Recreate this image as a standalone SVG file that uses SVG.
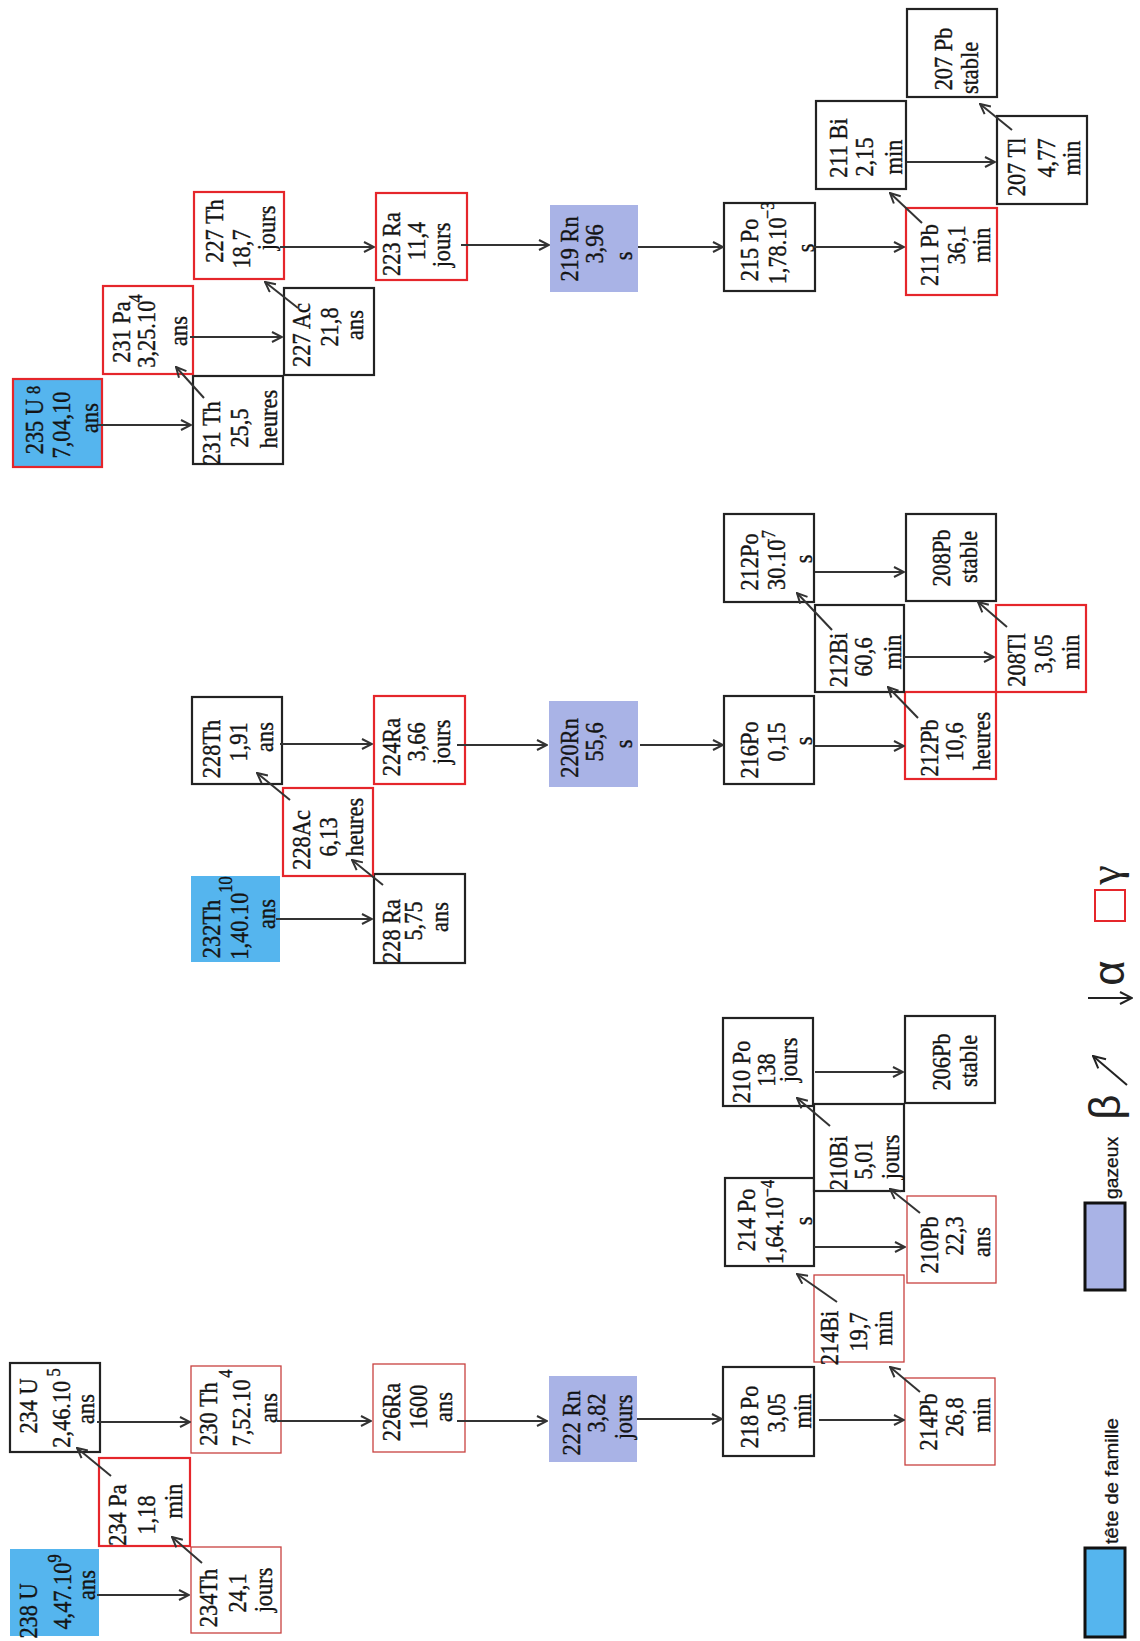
<svg xmlns="http://www.w3.org/2000/svg" width="1140" height="1641" viewBox="0 0 1140 1641">
  <style>
    .t { font-family: "Liberation Serif", "Times New Roman", serif; font-size: 26px; fill: #141414; stroke: #141414; stroke-width: 0.4; text-anchor: middle; }
    .sup { font-size: 19px; }
    .lg { font-family: "Liberation Sans", Arial, sans-serif; font-size: 18px; fill: #141414; stroke: #141414; stroke-width: 0.3; text-anchor: middle; }
    .gr { font-family: "Liberation Sans", "DejaVu Sans", sans-serif; font-size: 44px; fill: #222; text-anchor: middle; }
    .blk { fill: #fff; stroke: #222; stroke-width: 2.2; }
    .redk { fill: #fff; stroke: #e5262b; stroke-width: 2.2; }
    .redt { fill: #fff; stroke: #c8413f; stroke-width: 1.3; }
    .head { fill: #55b5ee; }
    .gas { fill: #a9b3e6; }
    .arr line { stroke: #333; stroke-width: 2; marker-end: url(#ah); }
  </style>
  <defs>
    <marker id="ah" viewBox="0 0 12 12" refX="11" refY="6" markerWidth="12" markerHeight="12" markerUnits="userSpaceOnUse" orient="auto">
      <path d="M1,1 L11,6 L1,11" fill="none" stroke="#333" stroke-width="2"/>
    </marker>
    <marker id="ahl" viewBox="0 0 14 14" refX="13" refY="7" markerWidth="14" markerHeight="14" markerUnits="userSpaceOnUse" orient="auto">
      <path d="M1,1 L13,7 L1,13" fill="none" stroke="#222" stroke-width="2"/>
    </marker>
  </defs>
  <rect width="1140" height="1641" fill="#fff"/>

  <!-- Uranium 238 series; labels read bottom-to-top, squeezed slightly along the line -->
  <g id="n-238U"><rect class="head" x="10" y="1549" width="89" height="87"/>
    <text class="t" transform="translate(37 1611) rotate(-90) scale(0.86 1)">238 U</text>
    <text class="t" transform="translate(71 1592) rotate(-90) scale(0.86 1)">4,47.10<tspan class="sup" dy="-10">9</tspan></text>
    <text class="t" transform="translate(95 1585) rotate(-90) scale(0.86 1)">ans</text></g>
  <g id="n-234Th"><rect class="redt" x="191" y="1547" width="90" height="86"/>
    <text class="t" transform="translate(217 1598) rotate(-90) scale(0.86 1)">234Th</text>
    <text class="t" transform="translate(246 1593) rotate(-90) scale(0.86 1)">24,1</text>
    <text class="t" transform="translate(272 1590) rotate(-90) scale(0.86 1)">jours</text></g>
  <g id="n-234Pa"><rect class="redk" x="99" y="1458" width="91" height="88"/>
    <text class="t" transform="translate(126 1515) rotate(-90) scale(0.86 1)">234 Pa</text>
    <text class="t" transform="translate(155 1515) rotate(-90) scale(0.86 1)">1,18</text>
    <text class="t" transform="translate(182 1501) rotate(-90) scale(0.86 1)">min</text></g>
  <g id="n-234U"><rect class="blk" x="10" y="1363" width="90" height="89"/>
    <text class="t" transform="translate(37 1406) rotate(-90) scale(0.86 1)">234 U</text>
    <text class="t" transform="translate(70 1408) rotate(-90) scale(0.86 1)">2,46.10<tspan class="sup" dx="5" dy="-10">5</tspan></text>
    <text class="t" transform="translate(94 1409) rotate(-90) scale(0.86 1)">ans</text></g>
  <g id="n-230Th"><rect class="redt" x="191" y="1366" width="90" height="87"/>
    <text class="t" transform="translate(217 1414) rotate(-90) scale(0.86 1)">230 Th</text>
    <text class="t" transform="translate(250 1408) rotate(-90) scale(0.86 1)">7,52.10<tspan class="sup" dx="2" dy="-18">4</tspan></text>
    <text class="t" transform="translate(277 1408) rotate(-90) scale(0.86 1)">ans</text></g>
  <g id="n-226Ra"><rect class="redt" x="373" y="1364" width="92" height="88"/>
    <text class="t" transform="translate(400 1412) rotate(-90) scale(0.86 1)">226Ra</text>
    <text class="t" transform="translate(427 1407) rotate(-90) scale(0.86 1)">1600</text>
    <text class="t" transform="translate(452 1407) rotate(-90) scale(0.86 1)">ans</text></g>
  <g id="n-222Rn"><rect class="gas" x="549" y="1376" width="88" height="86"/>
    <text class="t" transform="translate(580 1423) rotate(-90) scale(0.86 1)">222 Rn</text>
    <text class="t" transform="translate(605 1413) rotate(-90) scale(0.86 1)">3,82</text>
    <text class="t" transform="translate(632 1417) rotate(-90) scale(0.86 1)">jours</text></g>
  <g id="n-218Po"><rect class="blk" x="723" y="1367" width="91" height="89"/>
    <text class="t" transform="translate(758 1417) rotate(-90) scale(0.86 1)">218 Po</text>
    <text class="t" transform="translate(785 1413) rotate(-90) scale(0.86 1)">3,05</text>
    <text class="t" transform="translate(811 1411) rotate(-90) scale(0.86 1)">min</text></g>
  <g id="n-214Pb"><rect class="redt" x="905" y="1378" width="90" height="87"/>
    <text class="t" transform="translate(937 1422) rotate(-90) scale(0.86 1)">214Pb</text>
    <text class="t" transform="translate(963 1417) rotate(-90) scale(0.86 1)">26,8</text>
    <text class="t" transform="translate(990 1415) rotate(-90) scale(0.86 1)">min</text></g>
  <g id="n-214Bi"><rect class="redt" x="814" y="1275" width="90" height="87"/>
    <text class="t" transform="translate(838 1338) rotate(-90) scale(0.86 1)">214Bi</text>
    <text class="t" transform="translate(867 1332) rotate(-90) scale(0.86 1)">19,7</text>
    <text class="t" transform="translate(892 1328) rotate(-90) scale(0.86 1)">min</text></g>
  <g id="n-214Po"><rect class="blk" x="725" y="1178" width="89" height="88"/>
    <text class="t" transform="translate(755 1220) rotate(-90) scale(0.86 1)">214 Po</text>
    <text class="t" transform="translate(783 1222) rotate(-90) scale(0.86 1)">1,64.10<tspan class="sup" dy="-9">−4</tspan></text>
    <text class="t" transform="translate(812 1221) rotate(-90) scale(0.86 1)">s</text></g>
  <g id="n-210Pb"><rect class="redt" x="907" y="1196" width="89" height="87"/>
    <text class="t" transform="translate(938 1245) rotate(-90) scale(0.86 1)">210Pb</text>
    <text class="t" transform="translate(963 1236) rotate(-90) scale(0.86 1)">22,3</text>
    <text class="t" transform="translate(990 1242) rotate(-90) scale(0.86 1)">ans</text></g>
  <g id="n-210Bi"><rect class="blk" x="814" y="1104" width="90" height="87"/>
    <text class="t" transform="translate(847 1163) rotate(-90) scale(0.86 1)">210Bi</text>
    <text class="t" transform="translate(872 1160) rotate(-90) scale(0.86 1)">5,01</text>
    <text class="t" transform="translate(899 1157) rotate(-90) scale(0.86 1)">jours</text></g>
  <g id="n-210Po"><rect class="blk" x="723" y="1018" width="90" height="88"/>
    <text class="t" transform="translate(750 1072) rotate(-90) scale(0.86 1)">210 Po</text>
    <text class="t" transform="translate(775 1070) rotate(-90) scale(0.86 1)">138</text>
    <text class="t" transform="translate(797 1060) rotate(-90) scale(0.86 1)">jours</text></g>
  <g id="n-206Pb"><rect class="blk" x="905" y="1016" width="90" height="87"/>
    <text class="t" transform="translate(950 1062) rotate(-90) scale(0.86 1)">206Pb</text>
    <text class="t" transform="translate(977 1061) rotate(-90) scale(0.86 1)">stable</text></g>

  <!-- Thorium 232 series -->
  <g id="n-232Th"><rect class="head" x="191" y="876" width="89" height="86"/>
    <text class="t" transform="translate(220 929) rotate(-90) scale(0.86 1)">232Th</text>
    <text class="t" transform="translate(248 918) rotate(-90) scale(0.86 1)">1,40.10<tspan class="sup" dy="-16">10</tspan></text>
    <text class="t" transform="translate(275 914) rotate(-90) scale(0.86 1)">ans</text></g>
  <g id="n-228Ra"><rect class="blk" x="374" y="874" width="91" height="89"/>
    <text class="t" transform="translate(400 931) rotate(-90) scale(0.86 1)">228 Ra</text>
    <text class="t" transform="translate(422 921) rotate(-90) scale(0.86 1)">5,75</text>
    <text class="t" transform="translate(448 917) rotate(-90) scale(0.86 1)">ans</text></g>
  <g id="n-228Ac"><rect class="redk" x="283" y="788" width="90" height="88"/>
    <text class="t" transform="translate(310 840) rotate(-90) scale(0.86 1)">228Ac</text>
    <text class="t" transform="translate(337 837) rotate(-90) scale(0.86 1)">6,13</text>
    <text class="t" transform="translate(363 827) rotate(-90) scale(0.86 1)">heures</text></g>
  <g id="n-228Th"><rect class="blk" x="192" y="697" width="90" height="87"/>
    <text class="t" transform="translate(220 749) rotate(-90) scale(0.86 1)">228Th</text>
    <text class="t" transform="translate(247 742) rotate(-90) scale(0.86 1)">1,91</text>
    <text class="t" transform="translate(273 737) rotate(-90) scale(0.86 1)">ans</text></g>
  <g id="n-224Ra"><rect class="redk" x="374" y="696" width="91" height="88"/>
    <text class="t" transform="translate(400 747) rotate(-90) scale(0.86 1)">224Ra</text>
    <text class="t" transform="translate(425 742) rotate(-90) scale(0.86 1)">3,66</text>
    <text class="t" transform="translate(450 742) rotate(-90) scale(0.86 1)">jours</text></g>
  <g id="n-220Rn"><rect class="gas" x="549" y="701" width="89" height="86"/>
    <text class="t" transform="translate(578 748) rotate(-90) scale(0.86 1)">220Rn</text>
    <text class="t" transform="translate(603 742) rotate(-90) scale(0.86 1)">55,6</text>
    <text class="t" transform="translate(632 744) rotate(-90) scale(0.86 1)">s</text></g>
  <g id="n-216Po"><rect class="blk" x="724" y="696" width="90" height="88"/>
    <text class="t" transform="translate(758 750) rotate(-90) scale(0.86 1)">216Po</text>
    <text class="t" transform="translate(785 742) rotate(-90) scale(0.86 1)">0,15</text>
    <text class="t" transform="translate(812 741) rotate(-90) scale(0.86 1)">s</text></g>
  <g id="n-212Pb"><rect class="redk" x="905" y="692" width="91" height="87"/>
    <text class="t" transform="translate(938 748) rotate(-90) scale(0.86 1)">212Pb</text>
    <text class="t" transform="translate(963 742) rotate(-90) scale(0.86 1)">10,6</text>
    <text class="t" transform="translate(990 741) rotate(-90) scale(0.86 1)">heures</text></g>
  <g id="n-212Bi"><rect class="blk" x="815" y="605" width="89" height="87"/>
    <text class="t" transform="translate(847 660) rotate(-90) scale(0.86 1)">212Bi</text>
    <text class="t" transform="translate(872 657) rotate(-90) scale(0.86 1)">60,6</text>
    <text class="t" transform="translate(901 652) rotate(-90) scale(0.86 1)">min</text></g>
  <g id="n-212Po"><rect class="blk" x="724" y="514" width="90" height="88"/>
    <text class="t" transform="translate(758 562) rotate(-90) scale(0.86 1)">212Po</text>
    <text class="t" transform="translate(785 560) rotate(-90) scale(0.86 1)">30.10<tspan class="sup" dx="-9" dy="-10">−7</tspan></text>
    <text class="t" transform="translate(812 559) rotate(-90) scale(0.86 1)">s</text></g>
  <g id="n-208Tl"><rect class="redk" x="996" y="605" width="90" height="87"/>
    <text class="t" transform="translate(1025 660) rotate(-90) scale(0.86 1)">208Tl</text>
    <text class="t" transform="translate(1052 654) rotate(-90) scale(0.86 1)">3,05</text>
    <text class="t" transform="translate(1079 652) rotate(-90) scale(0.86 1)">min</text></g>
  <g id="n-208Pb"><rect class="blk" x="906" y="514" width="90" height="87"/>
    <text class="t" transform="translate(950 558) rotate(-90) scale(0.86 1)">208Pb</text>
    <text class="t" transform="translate(977 557) rotate(-90) scale(0.86 1)">stable</text></g>

  <!-- Uranium 235 series -->
  <g id="n-235U"><rect class="head" x="13" y="379" width="89" height="88" stroke="#e5262b" stroke-width="2.2"/>
    <text class="t" transform="translate(43 420) rotate(-90) scale(0.86 1)">235 U<tspan class="sup" dx="6" dy="-3">8</tspan></text>
    <text class="t" transform="translate(70 425) rotate(-90) scale(0.86 1)">7,04,10</text>
    <text class="t" transform="translate(98 418) rotate(-90) scale(0.86 1)">ans</text></g>
  <g id="n-231Th"><rect class="blk" x="193" y="376" width="90" height="88"/>
    <text class="t" transform="translate(220 433) rotate(-90) scale(0.86 1)">231 Th</text>
    <text class="t" transform="translate(248 428) rotate(-90) scale(0.86 1)">25,5</text>
    <text class="t" transform="translate(277 419) rotate(-90) scale(0.86 1)">heures</text></g>
  <g id="n-231Pa"><rect class="redk" x="103" y="286" width="90" height="88"/>
    <text class="t" transform="translate(130 332) rotate(-90) scale(0.86 1)">231 Pa</text>
    <text class="t" transform="translate(155 331) rotate(-90) scale(0.86 1)">3,25.10<tspan class="sup" dx="-2" dy="-13">4</tspan></text>
    <text class="t" transform="translate(187 331) rotate(-90) scale(0.86 1)">ans</text></g>
  <g id="n-227Ac"><rect class="blk" x="284" y="288" width="90" height="87"/>
    <text class="t" transform="translate(310 335) rotate(-90) scale(0.86 1)">227 Ac</text>
    <text class="t" transform="translate(338 327) rotate(-90) scale(0.86 1)">21,8</text>
    <text class="t" transform="translate(363 325) rotate(-90) scale(0.86 1)">ans</text></g>
  <g id="n-227Th"><rect class="redk" x="194" y="192" width="90" height="87"/>
    <text class="t" transform="translate(223 231) rotate(-90) scale(0.86 1)">227 Th</text>
    <text class="t" transform="translate(250 249) rotate(-90) scale(0.86 1)">18,7</text>
    <text class="t" transform="translate(275 228) rotate(-90) scale(0.86 1)">jours</text></g>
  <g id="n-223Ra"><rect class="redk" x="376" y="193" width="91" height="87"/>
    <text class="t" transform="translate(400 244) rotate(-90) scale(0.86 1)">223 Ra</text>
    <text class="t" transform="translate(425 241) rotate(-90) scale(0.86 1)">11,4</text>
    <text class="t" transform="translate(450 245) rotate(-90) scale(0.86 1)">jours</text></g>
  <g id="n-219Rn"><rect class="gas" x="550" y="205" width="88" height="87"/>
    <text class="t" transform="translate(578 249) rotate(-90) scale(0.86 1)">219 Rn</text>
    <text class="t" transform="translate(603 244) rotate(-90) scale(0.86 1)">3,96</text>
    <text class="t" transform="translate(632 256) rotate(-90) scale(0.86 1)">s</text></g>
  <g id="n-215Po"><rect class="blk" x="724" y="203" width="91" height="88"/>
    <text class="t" transform="translate(758 250) rotate(-90) scale(0.86 1)">215 Po</text>
    <text class="t" transform="translate(786 243) rotate(-90) scale(0.86 1)">1,78.10<tspan class="sup" dx="-2" dy="-12">−3</tspan></text>
    <text class="t" transform="translate(814 248) rotate(-90) scale(0.86 1)">s</text></g>
  <g id="n-211Pb"><rect class="redk" x="906" y="208" width="91" height="87"/>
    <text class="t" transform="translate(938 255) rotate(-90) scale(0.86 1)">211 Pb</text>
    <text class="t" transform="translate(965 245) rotate(-90) scale(0.86 1)">36,1</text>
    <text class="t" transform="translate(990 245) rotate(-90) scale(0.86 1)">min</text></g>
  <g id="n-211Bi"><rect class="blk" x="816" y="101" width="90" height="88"/>
    <text class="t" transform="translate(847 148) rotate(-90) scale(0.86 1)">211 Bi</text>
    <text class="t" transform="translate(873 157) rotate(-90) scale(0.86 1)">2,15</text>
    <text class="t" transform="translate(902 157) rotate(-90) scale(0.86 1)">min</text></g>
  <g id="n-207Tl"><rect class="blk" x="997" y="116" width="90" height="88"/>
    <text class="t" transform="translate(1025 167) rotate(-90) scale(0.86 1)">207 Tl</text>
    <text class="t" transform="translate(1055 158) rotate(-90) scale(0.86 1)">4,77</text>
    <text class="t" transform="translate(1080 158) rotate(-90) scale(0.86 1)">min</text></g>
  <g id="n-207Pb"><rect class="blk" x="907" y="9" width="90" height="88"/>
    <text class="t" transform="translate(952 59) rotate(-90) scale(0.86 1)">207 Pb</text>
    <text class="t" transform="translate(978 68) rotate(-90) scale(0.86 1)">stable</text></g>

  <!-- decay arrows: horizontal = alpha, diagonal = beta -->
  <g id="connectors" class="arr">
    <line x1="97" y1="1595" x2="189" y2="1595"/>
    <line x1="202" y1="1563" x2="172" y2="1537"/>
    <line x1="111" y1="1476" x2="77" y2="1448"/>
    <line x1="97" y1="1422" x2="190" y2="1422"/>
    <line x1="277" y1="1421" x2="371" y2="1421"/>
    <line x1="457" y1="1421" x2="547" y2="1421"/>
    <line x1="637" y1="1419" x2="722" y2="1419"/>
    <line x1="819" y1="1420" x2="904" y2="1420"/>
    <line x1="920" y1="1392" x2="890" y2="1367"/>
    <line x1="837" y1="1302" x2="797" y2="1274"/>
    <line x1="814" y1="1247" x2="905" y2="1247"/>
    <line x1="920" y1="1213" x2="890" y2="1189"/>
    <line x1="830" y1="1126" x2="797" y2="1098"/>
    <line x1="815" y1="1072" x2="903" y2="1072"/>

    <line x1="276" y1="919" x2="372" y2="919"/>
    <line x1="383" y1="885" x2="352" y2="860"/>
    <line x1="290" y1="800" x2="257" y2="773"/>
    <line x1="280" y1="744" x2="372" y2="744"/>
    <line x1="457" y1="745" x2="547" y2="745"/>
    <line x1="640" y1="745" x2="723" y2="745"/>
    <line x1="815" y1="746" x2="904" y2="746"/>
    <line x1="918" y1="718" x2="888" y2="687"/>
    <line x1="832" y1="630" x2="797" y2="593"/>
    <line x1="815" y1="572" x2="904" y2="572"/>
    <line x1="904" y1="657" x2="994" y2="657"/>
    <line x1="1007" y1="627" x2="978" y2="602"/>

    <line x1="98" y1="425" x2="191" y2="425"/>
    <line x1="204" y1="398" x2="176" y2="367"/>
    <line x1="190" y1="337" x2="282" y2="337"/>
    <line x1="298" y1="308" x2="265" y2="282"/>
    <line x1="280" y1="247" x2="374" y2="247"/>
    <line x1="461" y1="245" x2="549" y2="245"/>
    <line x1="638" y1="247" x2="723" y2="247"/>
    <line x1="813" y1="247" x2="904" y2="247"/>
    <line x1="922" y1="223" x2="890" y2="193"/>
    <line x1="907" y1="162" x2="995" y2="162"/>
    <line x1="1012" y1="130" x2="980" y2="104"/>
  </g>

  <!-- legend -->
  <g id="legend">
    <rect x="1085" y="1548" width="40" height="89" fill="#55b5ee" stroke="#111" stroke-width="3"/>
    <text class="lg" transform="translate(1118 1481) rotate(-90)" textLength="126" lengthAdjust="spacingAndGlyphs">tête de famille</text>
    <rect x="1085" y="1203" width="40" height="87" fill="#a9b3e6" stroke="#111" stroke-width="3"/>
    <text class="lg" transform="translate(1118 1168) rotate(-90)" textLength="62" lengthAdjust="spacingAndGlyphs">gazeux</text>
    <text class="gr" transform="translate(1120 1107) rotate(-90)">β</text>
    <line x1="1127" y1="1085" x2="1093" y2="1056" stroke="#222" stroke-width="2" marker-end="url(#ahl)"/>
    <line x1="1088" y1="998" x2="1132" y2="998" stroke="#222" stroke-width="2" marker-end="url(#ahl)"/>
    <text class="gr" transform="translate(1124 973) rotate(-90)">α</text>
    <rect x="1095" y="890" width="30" height="31" fill="none" stroke="#e5262b" stroke-width="2"/>
    <text class="gr" transform="translate(1120 875) rotate(-90)" style="font-family: 'Liberation Serif', serif;">γ</text>
  </g>
</svg>
